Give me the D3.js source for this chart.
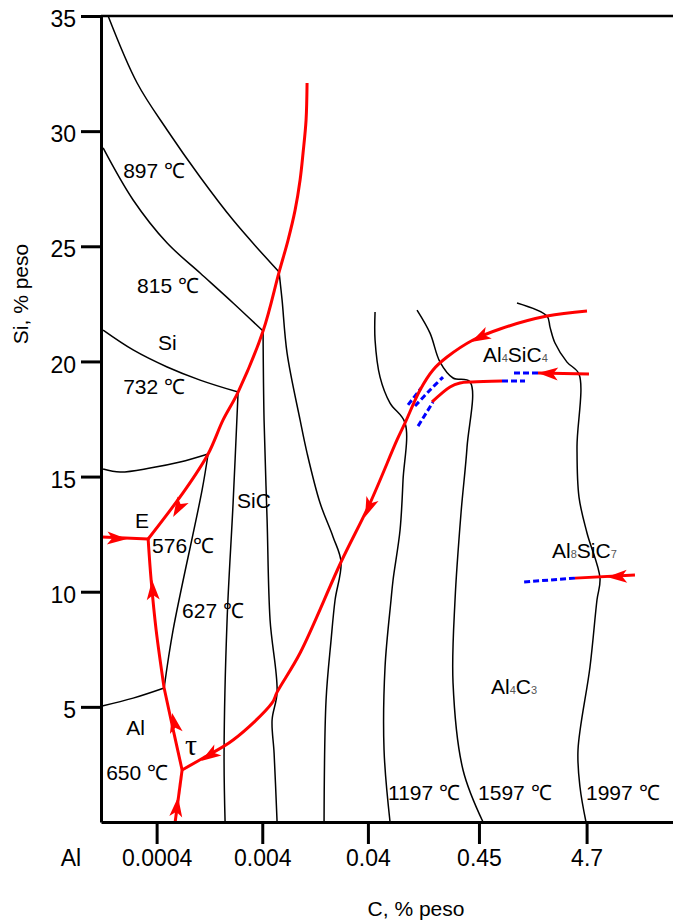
<!DOCTYPE html>
<html>
<head>
<meta charset="utf-8">
<script src="https://cdn.jsdelivr.net/npm/d3@7"></script>
<style>
  body { margin: 0; background: #fff; }
  text { font-family: "Liberation Sans", Arial, sans-serif; }
</style>
</head>
<body>
<div id="chart"></div>
<script>
// Axis ticks
var xTicks = [0.0004, 0.004, 0.04, 0.45, 4.7];
var xTickLabels = ["0.0004", "0.004", "0.04", "0.45", "4.7"];
var yTicks = [5, 10, 15, 20, 25, 30, 35];

// Black lines: isotherms and field boundaries, [C %, Si %]
var line897 = [[1.39e-4, 35.0], [2.615e-4, 32.09], [5.03e-4, 30.05], [1.032e-3, 28.01], [2.118e-3, 26.14], [5.77e-3, 23.88]];
var line815 = [[1.246e-4, 29.27], [2.397e-4, 27.01], [5.03e-4, 25.14], [1.032e-3, 23.84], [2.118e-3, 22.54], [4.07e-3, 21.32]];
var line732 = [[1.246e-4, 21.36], [2.397e-4, 20.50], [5.03e-4, 19.76], [1.032e-3, 19.19], [2.362e-3, 18.67]];
var lineSi15 = [[1.228e-3, 15.98], [6.67e-4, 15.63], [3.472e-4, 15.37], [1.805e-4, 15.20], [1.246e-4, 15.33]];
var lineAl5 = [[4.71e-4, 5.82], [2.397e-4, 5.38], [1.22e-4, 5.04]];
var line627 = [[1.228e-3, 15.98], [1.078e-3, 14.42], [5.73e-4, 8.34], [4.71e-4, 5.82]];
var lineA = [[2.362e-3, 18.67], [2.118e-3, 13.85], [1.858e-3, 8.77], [1.740e-3, 3.00], [1.779e-3, 0]];
var lineB = [[4.07e-3, 21.32], [4.16e-3, 17.46], [4.444e-3, 13.11], [4.742e-3, 8.77], [5.525e-3, 5.64], [4.955e-3, 4.43], [5.175e-3, 3.00], [5.525e-3, 0]];
var lineC = [[5.77e-3, 23.88], [6.16e-3, 22.67], [6.87e-3, 20.36], [9.12e-3, 17.46], [1.062e-2, 16.02], [1.41e-2, 13.85], [1.872e-2, 12.38], [2.227e-2, 11.29], [1.955e-2, 9.64], [1.792e-2, 7.90], [1.607e-2, 5.30], [1.538e-2, 0]];
var lineD = [[4.674e-2, 22.15], [4.674e-2, 20.93], [5.212e-2, 19.32], [6.479e-2, 18.19], [8.99e-2, 17.33], [8.60e-2, 14.85], [8.06e-2, 12.68], [6.92e-2, 10.51], [6.62e-2, 9.64], [5.81e-2, 6.73], [5.686e-2, 3.13], [6.479e-2, 0]];
var lineE = [[0.1167, 22.23], [0.1549, 21.23], [0.1927, 19.97], [0.2557, 19.28], [0.3703, 19.11], [0.3470, 16.28], [0.3044, 13.42], [0.2671, 9.64], [0.2557, 6.04], [0.3180, 2.26], [0.4917, 0]];
var lineF = [[1.031, 22.54], [1.983, 21.97], [2.117, 21.49], [2.360, 20.80], [3.066, 19.97], [3.982, 19.45], [3.813, 16.28], [3.982, 14.11], [4.741, 12.55], [6.293, 10.59], [5.892, 9.64], [5.061, 6.73], [3.897, 3.13], [4.07, 1.52], [4.638, 0]];
var blackLines = [line897, line815, line732, lineSi15, lineAl5, line627, lineA, lineB, lineC, lineD, lineE, lineF];

// Red lines: univariant valleys
var redTop = [[1.062e-2, 32.09], [1.039e-2, 30.48], [9.73e-3, 29.05], [9.12e-3, 27.88], [8.18e-3, 26.57], [7.02e-3, 25.27], [5.77e-3, 23.88], [4.07e-3, 21.32], [2.362e-3, 18.67], [1.703e-3, 17.46], [1.228e-3, 15.98], [7.44e-4, 14.42], [3.324e-4, 12.29]];
var redLeft = [[1.22e-4, 12.38], [3.324e-4, 12.29]];
var redEAl = [[3.324e-4, 12.29], [3.548e-4, 10.51], [3.956e-4, 8.34], [4.71e-4, 5.82]];
var redAlTau = [[4.71e-4, 5.82], [5.61e-4, 4.21], [6.97e-4, 2.26]];
var redTauBottom = [[5.99e-4, 0], [6.97e-4, 2.26]];
var redRight = [[6.97e-4, 2.26], [1.102e-3, 2.78], [2.118e-3, 3.56], [4.955e-3, 5.17], [5.525e-3, 5.64], [9.12e-3, 7.34], [2.227e-2, 11.29], [4.19e-2, 13.85], [7.545e-2, 16.59], [8.99e-2, 17.33], [0.1246, 18.76], [0.1654, 19.63], [0.2244, 20.19], [0.3954, 20.93], [0.712, 21.41], [1.983, 21.97], [4.741, 22.19]];
var redLower = [[0.1619, 18.24], [0.2395, 18.89], [0.2979, 19.06], [0.3869, 19.11], [0.7436, 19.15]];
var redAl4SiC4 = [[4.951, 19.45], [1.630, 19.50]];
var redAl8SiC7 = [[13.49, 10.73], [3.649, 10.59]];
var redLines = [redTop, redLeft, redEAl, redAlTau, redTauBottom, redRight, redLower, redAl4SiC4, redAl8SiC7];

// Blue dashed (metastable) lines
var blueLines = [
  [[0.0959, 18.11], [0.1274, 18.84]],
  [[0.1117, 18.06], [0.1549, 18.76], [0.2056, 19.32]],
  [[0.1193, 17.19], [0.1654, 18.24]],
  [[0.7436, 19.15], [1.228, 19.15]],
  [[1.630, 19.50], [0.9454, 19.50]],
  [[3.649, 10.59], [1.175, 10.42]]
];

// Arrows: tip C, tip Si, tail C, tail Si
var arrows = [
  [5.73e-4, 13.24, 6.82e-4, 13.85],
  [2.103e-4, 12.29, 1.452e-4, 12.33],
  [3.626e-4, 10.51, 3.706e-4, 9.73],
  [5.61e-4, 4.73, 6.12e-4, 3.91],
  [6.39e-4, 1.09, 6.05e-4, 0.17],
  [1.055e-3, 2.65, 1.528e-3, 3.13],
  [3.758e-2, 13.24, 4.474e-2, 14.11],
  [0.3786, 20.84, 0.5483, 21.23],
  [1.630, 19.50, 2.749, 19.45],
  [7.33, 10.64, 12.09, 10.68]
];

// Field labels: parts alternate normal / subscript
var labels = [
  {parts: ["897 ℃"], c: 1.928e-4, si: 27.96},
  {parts: ["815 ℃"], c: 2.615e-4, si: 22.97},
  {parts: ["Si"], c: 4.13e-4, si: 20.50},
  {parts: ["732 ℃"], c: 1.928e-4, si: 18.58},
  {parts: ["SiC"], c: 2.311e-3, si: 13.63},
  {parts: ["E"], c: 2.503e-4, si: 12.77},
  {parts: ["576 ℃"], c: 3.626e-4, si: 11.68},
  {parts: ["627 ℃"], c: 6.97e-4, si: 8.86},
  {parts: ["Al"], c: 2.058e-4, si: 3.78},
  {parts: ["650 ℃"], c: 1.331e-4, si: 1.82},
  {parts: ["1197 ℃"], c: 6.20e-2, si: 0.96},
  {parts: ["1597 ℃"], c: 0.441, si: 0.96},
  {parts: ["1997 ℃"], c: 4.638, si: 0.96},
  {parts: ["Al", "4", "SiC", "4"], c: 0.4917, si: 19.97},
  {parts: ["Al", "8", "SiC", "7"], c: 2.211, si: 11.46},
  {parts: ["Al", "4", "C", "3"], c: 0.5854, si: 5.56}
];
var tauLabel = {text: "τ", c: 7.44e-4, si: 2.91};

var svgWidth = 673;
var svgHeight = 923;

var svg = d3.select("#chart")
  .append("svg")
  .attr("width", svgWidth)
  .attr("height", svgHeight);

// log scale for C, linear for Si
var xScale = d3.scaleLog()
  .domain([0.000119, 30.9])
  .range([101, 673]);

var yScale = d3.scaleLinear()
  .domain([0, 35])
  .range([822, 16]);

var lineGen = d3.line()
  .x(d => xScale(d[0]))
  .y(d => yScale(d[1]))
  .curve(d3.curveCatmullRom.alpha(0.5));

// black lines
svg.append("g")
  .selectAll("path")
  .data(blackLines)
  .enter().append("path")
  .attr("d", lineGen)
  .attr("fill", "none")
  .attr("stroke", "#000")
  .attr("stroke-width", 1.5);

// blue dashed
svg.append("g")
  .selectAll("path")
  .data(blueLines)
  .enter().append("path")
  .attr("d", lineGen)
  .attr("fill", "none")
  .attr("stroke", "#0000ff")
  .attr("stroke-width", 3)
  .attr("stroke-dasharray", "6,3");

// red lines
svg.append("g")
  .selectAll("path")
  .data(redLines)
  .enter().append("path")
  .attr("d", lineGen)
  .attr("fill", "none")
  .attr("stroke", "#ff0000")
  .attr("stroke-width", 3)
  .attr("stroke-linejoin", "round");

// arrowheads
var headLen = 20, headW = 6.5;
svg.append("g")
  .selectAll("path")
  .data(arrows)
  .enter().append("path")
  .attr("fill", "#ff0000")
  .attr("d", "M0,0L" + (-headLen) + "," + headW + "L" + (-headLen * 0.75) + ",0L" + (-headLen) + "," + (-headW) + "Z")
  .attr("transform", function(a) {
    var tx = xScale(a[0]), ty = yScale(a[1]);
    var bx = xScale(a[2]), by = yScale(a[3]);
    var ang = Math.atan2(ty - by, tx - bx) * 180 / Math.PI;
    return "translate(" + tx + "," + ty + ") rotate(" + ang + ")";
  });

// axes
var leftAxis = d3.axisLeft(yScale)
  .tickValues(yTicks)
  .tickSize(20)
  .tickSizeOuter(0)
  .tickPadding(5);

var bottomAxis = d3.axisBottom(xScale)
  .tickValues(xTicks)
  .tickSize(22)
  .tickSizeOuter(0)
  .tickPadding(6)
  .tickFormat((d, i) => xTickLabels[i]);

var gy = svg.append("g")
  .attr("transform", "translate(" + xScale.range()[0] + ",0)")
  .call(leftAxis);

var gx = svg.append("g")
  .attr("transform", "translate(0," + yScale(0) + ")")
  .call(bottomAxis);

[gy, gx].forEach(function(g) {
  g.selectAll("path, line").attr("stroke", "#000").attr("stroke-width", 3);
  g.selectAll("text")
    .attr("fill", "#000")
    .attr("font-size", 23)
    .style("font-family", "'Liberation Sans', Arial, sans-serif");
});
gy.selectAll("text").attr("dy", "0.46em");

// top frame line
svg.append("line")
  .attr("x1", xScale.range()[0])
  .attr("x2", xScale.range()[1])
  .attr("y1", yScale(35))
  .attr("y2", yScale(35))
  .attr("stroke", "#000")
  .attr("stroke-width", 2.5);

// "Al" at the origin of C axis
svg.append("text")
  .attr("x", xScale.range()[0] - 30)
  .attr("y", 866)
  .attr("text-anchor", "middle")
  .attr("font-size", 23)
  .text("Al");

// axis titles
svg.append("text")
  .attr("transform", "rotate(-90)")
  .attr("x", -294)
  .attr("y", 28)
  .attr("text-anchor", "middle")
  .attr("font-size", 21)
  .text("Si, % peso");

svg.append("text")
  .attr("x", 416)
  .attr("y", 916)
  .attr("text-anchor", "middle")
  .attr("font-size", 21)
  .text("C, % peso");

// field labels
var lab = svg.append("g")
  .selectAll("text")
  .data(labels)
  .enter().append("text")
  .attr("x", d => xScale(d.c))
  .attr("y", d => yScale(d.si))
  .attr("font-size", 21)
  .attr("fill", "#000");

lab.each(function(d) {
  var t = d3.select(this);
  d.parts.forEach(function(p, i) {
    t.append("tspan")
      .attr("font-size", i % 2 === 1 ? 11 : 21)
      .attr("fill", i % 2 === 1 ? "#555" : "#000")
      .text(p);
  });
});

svg.append("text")
  .attr("x", xScale(tauLabel.c))
  .attr("y", yScale(tauLabel.si))
  .attr("font-size", 30)
  .style("font-family", "'Liberation Serif', 'Times New Roman', serif")
  .text(tauLabel.text);
</script>
</body>
</html>
